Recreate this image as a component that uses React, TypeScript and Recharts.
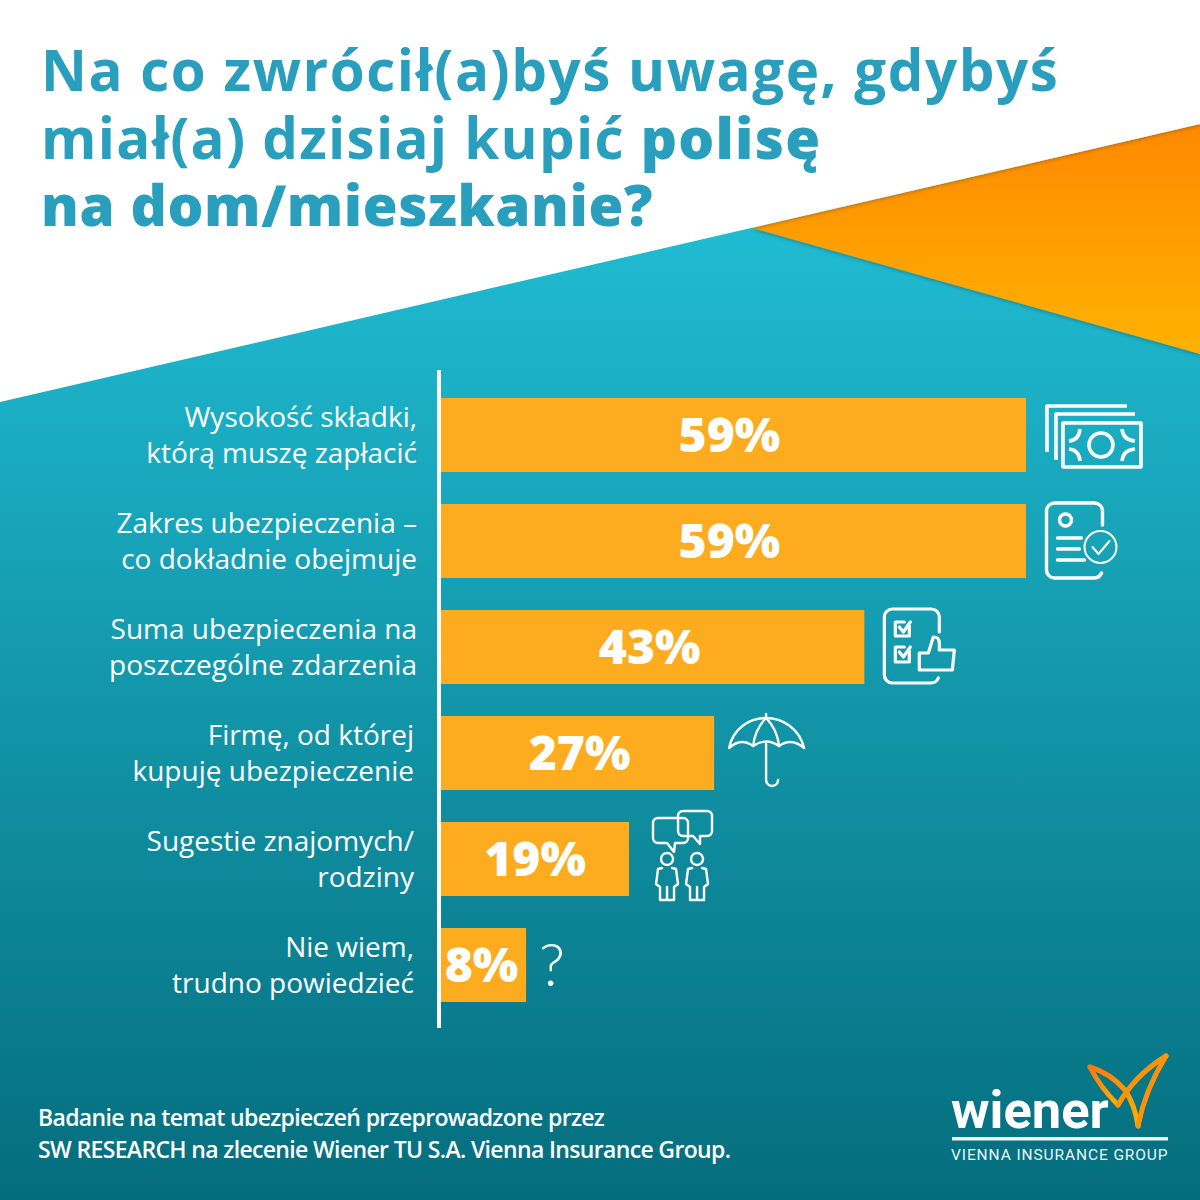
import React from "react";
import { BarChart, Bar, XAxis, YAxis, LabelList } from "recharts";

const titleLines = ["Na co zwrócił(a)byś uwagę, gdybyś", "miał(a) dzisiaj kupić ", "polisę", "na dom/mieszkanie?"];
const categories = [
  "Wysokość składki,|którą muszę zapłacić",
  "Zakres ubezpieczenia –|co dokładnie obejmuje",
  "Suma ubezpieczenia na|poszczególne zdarzenia",
  "Firmę, od której|kupuję ubezpieczenie",
  "Sugestie znajomych/|rodziny",
  "Nie wiem,|trudno powiedzieć",
];
// Bar lengths as measured in the picture (the printed labels are rounded differently by the designer).
const barLengths = [59, 59, 42.75, 27.65, 19.1, 8.75];
const printedLabels = ["59%", "59%", "43%", "27%", "19%", "8%"];
const footerLines = [
  "Badanie na temat ubezpieczeń przeprowadzone przez",
  "SW RESEARCH na zlecenie Wiener TU S.A. Vienna Insurance Group.",
];

const data = categories.map((category, i) => ({ category, value: barLengths[i], label: printedLabels[i] }));

const FONT = "'Open Sans', sans-serif";
const W = "#ffffff";

const ic = { fill: "none", stroke: W, strokeLinecap: "round" as const, strokeLinejoin: "round" as const };

const MoneyIcon = () => (
  <g {...ic} strokeWidth={3.6} strokeLinecap="butt">
    <path d="M1,17 V-29 H81" />
    <path d="M10,25 V-21 H89" />
    <rect x={17} y={-12} width={78} height={44} />
    <circle cx={55} cy={10} r={12} />
    <path d="M34,-6 Q33,5 23,6 M76,-6 Q77,5 89,6 M34,26 Q33,15 23,14 M76,26 Q77,15 89,14" />
  </g>
);
const DocIcon = () => (
  <g {...ic} strokeWidth={3.4}>
    <path d="M56,-16 V-30 a8,8 0 0 0 -8,-8 H8 a8,8 0 0 0 -8,8 V29 a8,8 0 0 0 8,8 H48 a8,8 0 0 0 7,-5" />
    <circle cx={19} cy={-21} r={6} />
    <path d="M11,-3 H35 M11,8 H33 M11,19 H38" />
    <circle cx={54} cy={6} r={16} strokeWidth={2} />
    <path d="M46,6 L52,13 L63,0" strokeWidth={2} />
  </g>
);
const ListIcon = () => (
  <g {...ic} strokeWidth={3.2}>
    <path d="M55,-15 V-30 a8,8 0 0 0 -8,-8 H8 a8,8 0 0 0 -8,8 V28 a8,8 0 0 0 8,8 H47 a8,8 0 0 0 7,-5" />
    <path d="M25,-22 V-11 H11 V-25 H20 M15,-20 L19,-15 L26,-25" />
    <path d="M25,3 V15 H11 V0 H20 M15,5 L19,10 L26,0" />
    <path d="M35,6 H44 L49,-10 Q55,-10 55,-4 V3 H70 L68,23 H35 Z" />
  </g>
);
const UmbrellaIcon = () => (
  <g {...ic} strokeWidth={2.4}>
    <path d="M1,-5 C5,-25 22,-35 38,-35 C54,-35 71,-25 76,-5 Q63,-16 51,-7 Q38,-16 25,-7 Q13,-16 1,-5 Z" />
    <path d="M38,-39 V-35 M38,-35 Q27,-24 25,-7 M38,-35 Q49,-24 51,-7" />
    <path d="M38,-9 V27 a6,6 0 0 0 12,0" />
  </g>
);
const Person = ({ dx }: { dx: number }) => (
  <g transform={`translate(${dx},0)`}>
    <circle cx={14} cy={0} r={6} />
    <path d="M9,9 L5,10 Q4,18 3,25 L7,28 V41 H21 V28 L25,25 Q24,18 23,10 L19,9 M14,28 V41" />
  </g>
);
const PeopleIcon = () => (
  <g {...ic} strokeWidth={2.4}>
    <path d="M5,-41 H30 a5,5 0 0 1 5,5 V-21 a5,5 0 0 1 -5,5 H22 L21,-7 L14,-16 H5 a5,5 0 0 1 -5,-5 V-36 a5,5 0 0 1 5,-5 Z" />
    <path d="M30,-48 H54 a5,5 0 0 1 5,5 V-28 a5,5 0 0 1 -5,5 H47 L47,-15 L40,-23 H30 a5,5 0 0 1 -5,-5 V-43 a5,5 0 0 1 5,-5 Z" />
    <Person dx={0} />
    <Person dx={30} />
  </g>
);
const QuestionIcon = () => (
  <text x={0} y={21} fontFamily="Lato, sans-serif" fontWeight={300} fontSize={60} fill={W}>?</text>
);

const icons = [MoneyIcon, DocIcon, ListIcon, UmbrellaIcon, PeopleIcon, QuestionIcon];
const iconGaps = [20, 20.5, 20, 14, 24, 13];
const labelNudges = [-3, -3, -2, 3, 1, -1];
const tickInsets = [14, 14, 14, 17, 17, 17];

const CategoryTick = (props: any) => {
  const { x, y, payload, index } = props;
  const [a, b] = String(payload.value).split("|");
  const right = x - tickInsets[index ?? 0];
  return (
    <text textAnchor="end" fontFamily={FONT} fontSize={28} fill={W}>
      <tspan x={right} y={y - 8}>{a}</tspan>
      <tspan x={right} y={y + 28}>{b}</tspan>
    </text>
  );
};

const ValueLabel = (props: any) => {
  const { x, y, width, height, index } = props;
  const cx = x + width / 2 + labelNudges[index];
  const cy = y + height / 2;
  const Icon = icons[index];
  return (
    <g>
      <text x={cx} y={cy + 17} textAnchor="middle" fontFamily={FONT} fontWeight={800} fontSize={48} fill={W}>
        {printedLabels[index]}
      </text>
      <g transform={`translate(${x + width + iconGaps[index]},${cy})`}>
        <Icon />
      </g>
    </g>
  );
};

export default function App() {
  return (
    <div style={{ position: "absolute", left: 0, top: 0, width: 1200, height: 1200, overflow: "hidden" }}>
      <svg width={1200} height={1200} style={{ position: "absolute", left: 0, top: 0 }}>
        <defs>
          <linearGradient id="bg" x1="0" y1="0" x2="0" y2="1">
            <stop offset="0.19" stopColor="#20bbd2" />
            <stop offset="0.4" stopColor="#19a8bd" />
            <stop offset="1" stopColor="#046d7d" />
          </linearGradient>
          <linearGradient id="org" x1="0" y1="0" x2="0" y2="1">
            <stop offset="0" stopColor="#ff8900" />
            <stop offset="1" stopColor="#ffb200" />
          </linearGradient>
          <linearGradient id="logoG" x1="0" y1="0" x2="1" y2="1">
            <stop offset="0" stopColor="#f47a10" />
            <stop offset="1" stopColor="#ffb000" />
          </linearGradient>
          <filter id="sh" x="-10%" y="-10%" width="120%" height="120%">
            <feDropShadow dx="0" dy="1" stdDeviation="2" floodColor="#000" floodOpacity="0.3" />
          </filter>
          <clipPath id="orgClip">
            <polygon points="752,228 1200,124 1200,354" />
          </clipPath>
        </defs>
        <rect width={1200} height={1200} fill="url(#bg)" />
        <polygon points="752,228 1200,124 1200,354" fill="url(#org)" filter="url(#sh)" />
        <g clipPath="url(#orgClip)">
          <polygon points="0,0 1200,0 1200,124 0,402" fill={W} filter="url(#sh)" />
        </g>
        <polygon points="0,0 1200,0 1200,124 0,402" fill={W} />
        <g fontFamily={FONT} fill="#2a9fbd" fontSize={56.5}>
          <text x={41} y={91} fontWeight={700} letterSpacing={1.52}>{titleLines[0]}</text>
          <text x={41} y={159} fontWeight={700} letterSpacing={1.26}>
            {titleLines[1]}
            <tspan fontWeight={800}>{titleLines[2]}</tspan>
          </text>
          <text x={41} y={226} fontWeight={800} letterSpacing={0.6}>{titleLines[3]}</text>
        </g>
        <g fontFamily={FONT} fontWeight={600} fontSize={23} fill={W} letterSpacing={-0.65}>
          <text x={38} y={1126}>{footerLines[0]}</text>
          <text x={38} y={1158}>{footerLines[1]}</text>
        </g>
        <g>
          <text x={951} y={1128} fontFamily="Roboto, sans-serif" fontWeight={700} fontSize={52.5} fill={W}>wiener</text>
          <rect x={952} y={1137} width={216} height={3.5} fill="#e8f6f8" />
          <text x={951} y={1160} fontFamily="Roboto, sans-serif" fontWeight={400} fontSize={15.5} fill="#e8f6f8" letterSpacing={0.9}>VIENNA INSURANCE GROUP</text>
          <g fill="none" stroke="url(#logoG)" strokeWidth={5} strokeLinecap="round">
            <path d="M1090,1067 Q1110,1073 1125,1090 Q1135,1105 1138,1126" />
            <path d="M1138,1126 Q1145,1090 1166,1056" />
            <path d="M1090,1067 Q1100,1087 1118,1105" />
            <path d="M1118,1105 Q1135,1075 1166,1056" />
          </g>
        </g>
      </svg>
      <div style={{ position: "absolute", left: 0, top: 0 }}>
        <BarChart
          width={1200}
          height={1200}
          layout="vertical"
          data={data}
          margin={{ top: 370, bottom: 172, left: 0, right: 174 }}
        >
          <XAxis type="number" hide domain={[0, 59]} />
          <YAxis
            type="category"
            dataKey="category"
            width={439}
            padding={{ top: 12, bottom: 10 }}
            axisLine={{ stroke: W, strokeWidth: 4 }}
            tickLine={false}
            tick={<CategoryTick />}
            interval={0}
          />
          <Bar dataKey="value" fill="#fdac1f" barSize={74} isAnimationActive={false}>
            <LabelList dataKey="label" content={<ValueLabel />} />
          </Bar>
        </BarChart>
      </div>
    </div>
  );
}
